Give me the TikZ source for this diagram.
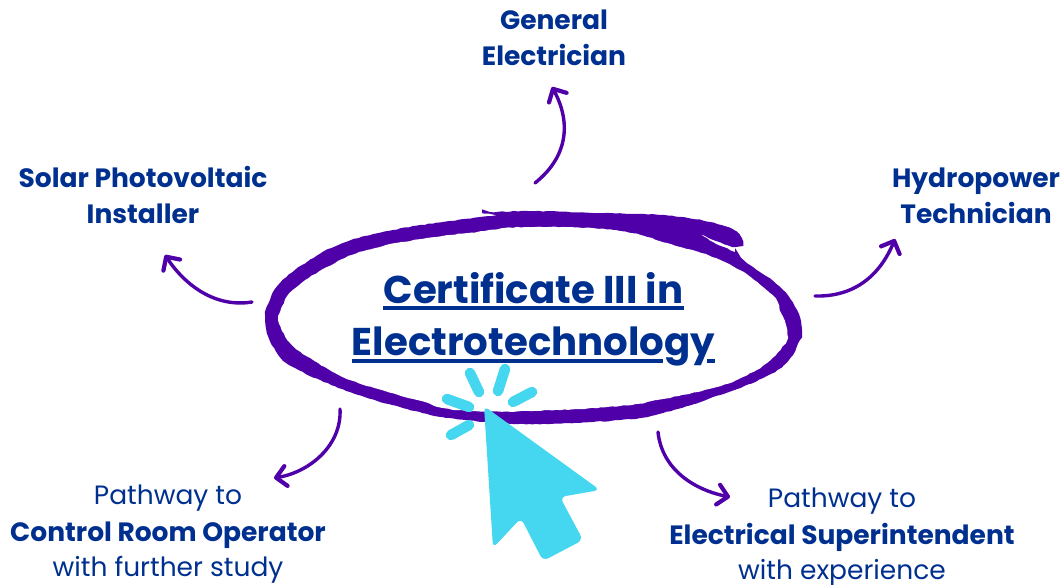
\documentclass[tikz,border=0pt]{standalone}
\usepackage{fontspec}
\setmainfont{Poppins}
\usetikzlibrary{arrows.meta,decorations.pathmorphing}
\definecolor{navy}{HTML}{00308F}
\definecolor{ringp}{HTML}{5000A8}
\definecolor{cyanc}{HTML}{45D6F0}
\tikzset{
  x=1pt,y=-1pt,
  lab/.style={font=\fontsize{26.5}{30}\selectfont\bfseries,text=navy,inner sep=0pt,anchor=base},
  plain/.style={font=\fontsize{26.5}{30}\selectfont,text=navy,inner sep=0pt,anchor=base},
  big/.style={font=\fontsize{38.7}{44}\selectfont\bfseries,text=navy,inner sep=0pt,anchor=base},
  curvearrow/.style={draw=ringp,line width=3.4pt,line cap=round,-{Straight Barb[round,length=10pt,width=20pt,line width=4.2pt]}},
  ray/.style={draw=cyanc,line width=10.5pt,line cap=round},
  rough/.style={decorate,decoration={random steps,segment length=4pt,amplitude=.45pt}},
}
\begin{document}
\begin{tikzpicture}
\useasboundingbox (0,0) rectangle (1063,584);
% ring
\fill[ringp,rough]
  plot[smooth,tension=.7] coordinates {(265,320)(267,307)(280,283)(307,262)(343,243)(393,230)(443,222)(480,217)}
  -- (497,215)
  -- plot[smooth,tension=.7] coordinates {(482,213)(527,211)(600,213)(660,215)(710,222)(737,232)(743,246)}
  -- (732,247) -- (716,241) -- (700,234) -- (716,244)
  -- plot[smooth,tension=.7] coordinates {(735,252)(750,265)(780,287)(797,310)(802,330)(800,340)(787,362)(763,378)(720,395)(663,413)(620,420)(530,424)(450,418)(400,407)(350,392)(293,367)(274,348)(267,333)}
  -- cycle;
\fill[white,rough]
  plot[smooth,tension=.7] coordinates {(278,320)(282,307)(293,290)(327,267)(367,250)(427,238)(477,232)(527,227)(613,230)(667,243)(727,263)(770,293)(780,310)(787,330)(785,343)(767,363)(743,377)(717,387)(663,399)(620,406)(530,411)(457,410)(417,400)(350,380)(310,358)(293,346)(282,331)}
  -- cycle;
% rays
\draw[ray] (470,373) -- (479,392);
\draw[ray] (505,369) -- (498,391);
\draw[ray] (532,392) -- (513,402);
\draw[ray] (447,399) -- (469,407);
\draw[ray] (469,425) -- (451,435);
% cursor
\fill[cyanc,rounded corners=6pt] (484,406) -- (600,490) -- (560,497) -- (583,540) -- (543,561) -- (521,518) -- (493,548) -- cycle;
% title
\node[big] (t1) at (533.5,303) {Certificate III in};
\node[big] (t2) at (533.5,355) {Electrotechnology};
\draw[navy,line width=3.6pt] (t1.base west |- 0,308) -- (t1.base east |- 0,308);
\draw[navy,line width=3.6pt] (t2.base west |- 0,361) -- (663,361);
\draw[navy,line width=3.6pt] (707,361) -- (t2.base east |- 0,361);
% labels
\node[lab] (g1) at (554,29) {General};
\node[lab] (g2) at (554,65) {Electrician};
\node[lab] (s1) at (143,187) {Solar Photovoltaic};
\node[lab] (s2) at (143,223) {Installer};
\node[lab] (h1) at (976,187) {Hydropower};
\node[lab] (h2) at (976,223) {Technician};
\node[plain] (c1) at (168,504) {Pathway to};
\node[lab] (c2) at (168,541) {Control Room Operator};
\node[plain] (c3) at (168,576) {with further study};
\node[plain] (e1) at (842,507) {Pathway to};
\node[lab] (e2) at (842,544) {Electrical Superintendent};
\node[plain] (e3) at (842,579) {with experience};
% arrows
\coordinate (a1s) at (535,183); \coordinate (a1e) at (552,87);
\coordinate (a2s) at (252,302); \coordinate (a2e) at (165,255);
\coordinate (a3s) at (815,296); \coordinate (a3e) at (895,239);
\coordinate (a4s) at (340,409); \coordinate (a4e) at (274,478);
\coordinate (a5s) at (658,432); \coordinate (a5e) at (730,497);
\draw[curvearrow] (a1s) .. controls (570,155) and (570,120) .. (a1e);
\draw[curvearrow] (a2s) .. controls (215,308) and (185,285) .. (a2e);
\draw[curvearrow] (a3s) .. controls (855,297) and (880,275) .. (a3e);
\draw[curvearrow] (a4s) .. controls (342,445) and (310,472) .. (a4e);
\draw[curvearrow] (a5s) .. controls (662,470) and (695,490) .. (a5e);
\end{tikzpicture}
\end{document}
